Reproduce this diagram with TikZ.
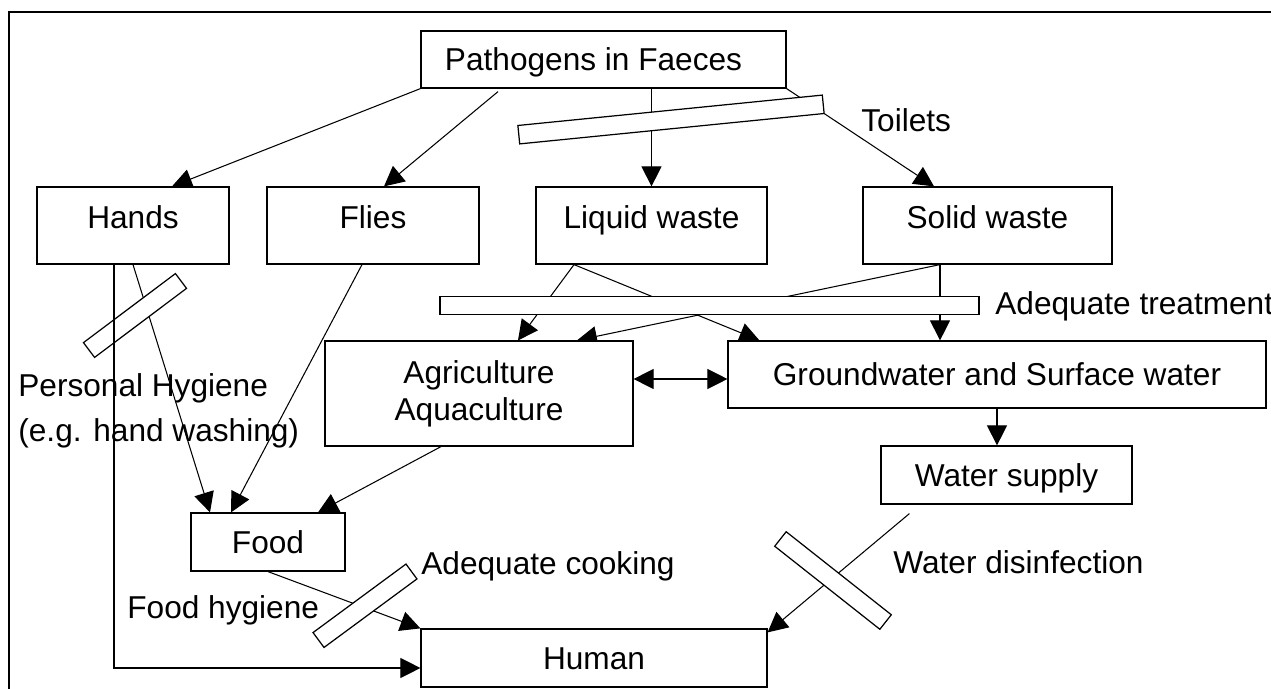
\documentclass[tikz,border=0pt]{standalone}
\usepackage{fontspec}
\setmainfont{Liberation Sans}
\usepackage{tikz}
\usetikzlibrary{arrows.meta}
\tikzstyle{box}=[fill=white, draw=black, shape=rectangle, line width=0.7pt, inner sep=0pt, text height=0.46cm, text depth=0pt]
\tikzstyle{top box}=[box, minimum height=1.54cm, text depth=0.34cm]
\tikzstyle{two line box}=[fill=white, draw=black, shape=rectangle, line width=0.7pt, inner sep=0pt, align=center]
\tikzstyle{gate}=[fill=white, draw=black, shape=rectangle, line width=0.7pt, inner sep=0pt, minimum height=0.37cm]
\tikzstyle{note}=[inner sep=0pt, anchor=west, text height=0.46cm, text depth=0pt]
\tikzstyle{arrow edge}=[-{Triangle[length=0.4cm, width=0.4cm]}, draw=black, line width=0.6pt]
\tikzstyle{double arrow edge}=[{Triangle[length=0.4cm, width=0.4cm]}-{Triangle[length=0.4cm, width=0.4cm]}, draw=black, line width=0.6pt]
\tikzstyle{frame}=[draw=black, line width=1.1pt]
\pgfdeclarelayer{edgelayer}
\pgfdeclarelayer{nodelayer}
\pgfsetlayers{edgelayer,nodelayer,main}
\begin{document}
\begin{tikzpicture}[x=0.02cm, y=-0.02cm, every node/.style={font=\fontsize{18}{21}\selectfont}]
	\useasboundingbox (0, 0) rectangle (1271, 689);
	\begin{scope}
		\clip (0, 0) rectangle (1271, 689);
		\draw [style=frame] (9, 12) rectangle (1290, 710);
	\end{scope}
	\begin{pgfonlayer}{nodelayer}
		\node [style=box, minimum width=7.3cm, minimum height=1.14cm] (0) at (603.5, 59.5) {Pathogens in Faeces\kern0.4cm};
		\node [style=top box, minimum width=3.84cm] (1) at (133, 225.5) {Hands};
		\node [style=top box, minimum width=4.24cm] (2) at (373, 225.5) {Flies};
		\node [style=top box, minimum width=4.62cm] (3) at (651.5, 225.5) {Liquid waste};
		\node [style=top box, minimum width=4.98cm] (4) at (987.5, 225.5) {Solid waste};
		\node [style=two line box, minimum width=6.16cm, minimum height=2.1cm] (5) at (479, 393.5) {Agriculture\\Aquaculture};
		\node [style=box, minimum width=10.76cm, minimum height=1.34cm] (6) at (997, 374.5) {Groundwater and Surface water};
		\node [style=box, minimum width=5.02cm, minimum height=1.16cm] (7) at (1006.5, 475) {Water supply};
		\node [style=box, minimum width=3.08cm, minimum height=1.16cm] (8) at (268, 542) {Food};
		\node [style=box, minimum width=6.92cm, minimum height=1.16cm] (9) at (594, 658) {Human};
		\node [style=gate, minimum width=6.12cm, rotate=5.7] (10) at (671, 119.5) {};
		\node [style=gate, minimum width=10.78cm] (11) at (709.5, 305.5) {};
		\node [style=gate, minimum width=2.3cm, rotate=36.9] (12) at (135, 315.5) {};
		\node [style=gate, minimum width=2.31cm, rotate=36.4] (13) at (365, 605.75) {};
		\node [style=gate, minimum width=2.68cm, rotate=-38.3] (14) at (833, 580.5) {};
		\node [style=note] (15) at (861, 120) {Toilets};
		\node [style=note] (16) at (995, 303) {Adequate treatment};
		\node [inner sep=0pt, anchor=west, align=left, font=\fontsize{18}{25.5}\selectfont] (17) at (18, 411) {Personal Hygiene\\(e.g. hand washing)};
		\node [style=note] (18) at (127, 607) {Food hygiene};
		\node [style=note] (19) at (421, 563) {Adequate cooking};
		\node [style=note] (20) at (893, 562) {Water disinfection};
	\end{pgfonlayer}
	\begin{pgfonlayer}{edgelayer}
		\draw [style=arrow edge] (0.south west) to ([xshift=0.78cm]1.north);
		\draw [style=arrow edge] ([xshift=-2.11cm, yshift=-0.06cm]0.south) to ([xshift=0.22cm]2.north);
		\draw [style=arrow edge] (3.north |- 0.south) to (3.north);
		\draw [style=arrow edge] (0.south east) to ([xshift=-1.07cm]4.north);
		\draw [style=arrow edge] (1.south) to ([xshift=-1.16cm]8.north);
		\draw [style=arrow edge] ([xshift=-0.22cm]2.south) to ([xshift=-0.74cm]8.north);
		\draw [style=arrow edge] ([xshift=-0.76cm]5.south) to ([xshift=1cm]8.north);
		\draw [style=arrow edge] (8.south) to (9.north west);
		\draw [style=arrow edge] ([xshift=-1.55cm]3.south) to ([xshift=0.78cm]5.north);
		\draw [style=arrow edge] ([xshift=-1.55cm]3.south) to ([xshift=0.64cm]6.north west);
		\draw [style=arrow edge] ([xshift=-0.95cm]4.south) to ([xshift=1.96cm]5.north);
		\draw [style=arrow edge] ([xshift=-0.95cm]4.south) to ([xshift=-0.95cm]4.south |- 6.north);
		\draw [style=double arrow edge] ([yshift=-0.09cm]5.east |- 6.west) to ([yshift=-0.09cm]6.west);
		\draw [style=arrow edge] (6.south) to (6.south |- 7.north);
		\draw [style=arrow edge] ([xshift=0.58cm, yshift=-0.18cm]7.south west) to ([yshift=-0.08cm]9.north east);
	\end{pgfonlayer}
	\draw [style=arrow edge] ([xshift=-0.38cm]1.south) |- ([yshift=-0.2cm]9.west);
\end{tikzpicture}
\end{document}
